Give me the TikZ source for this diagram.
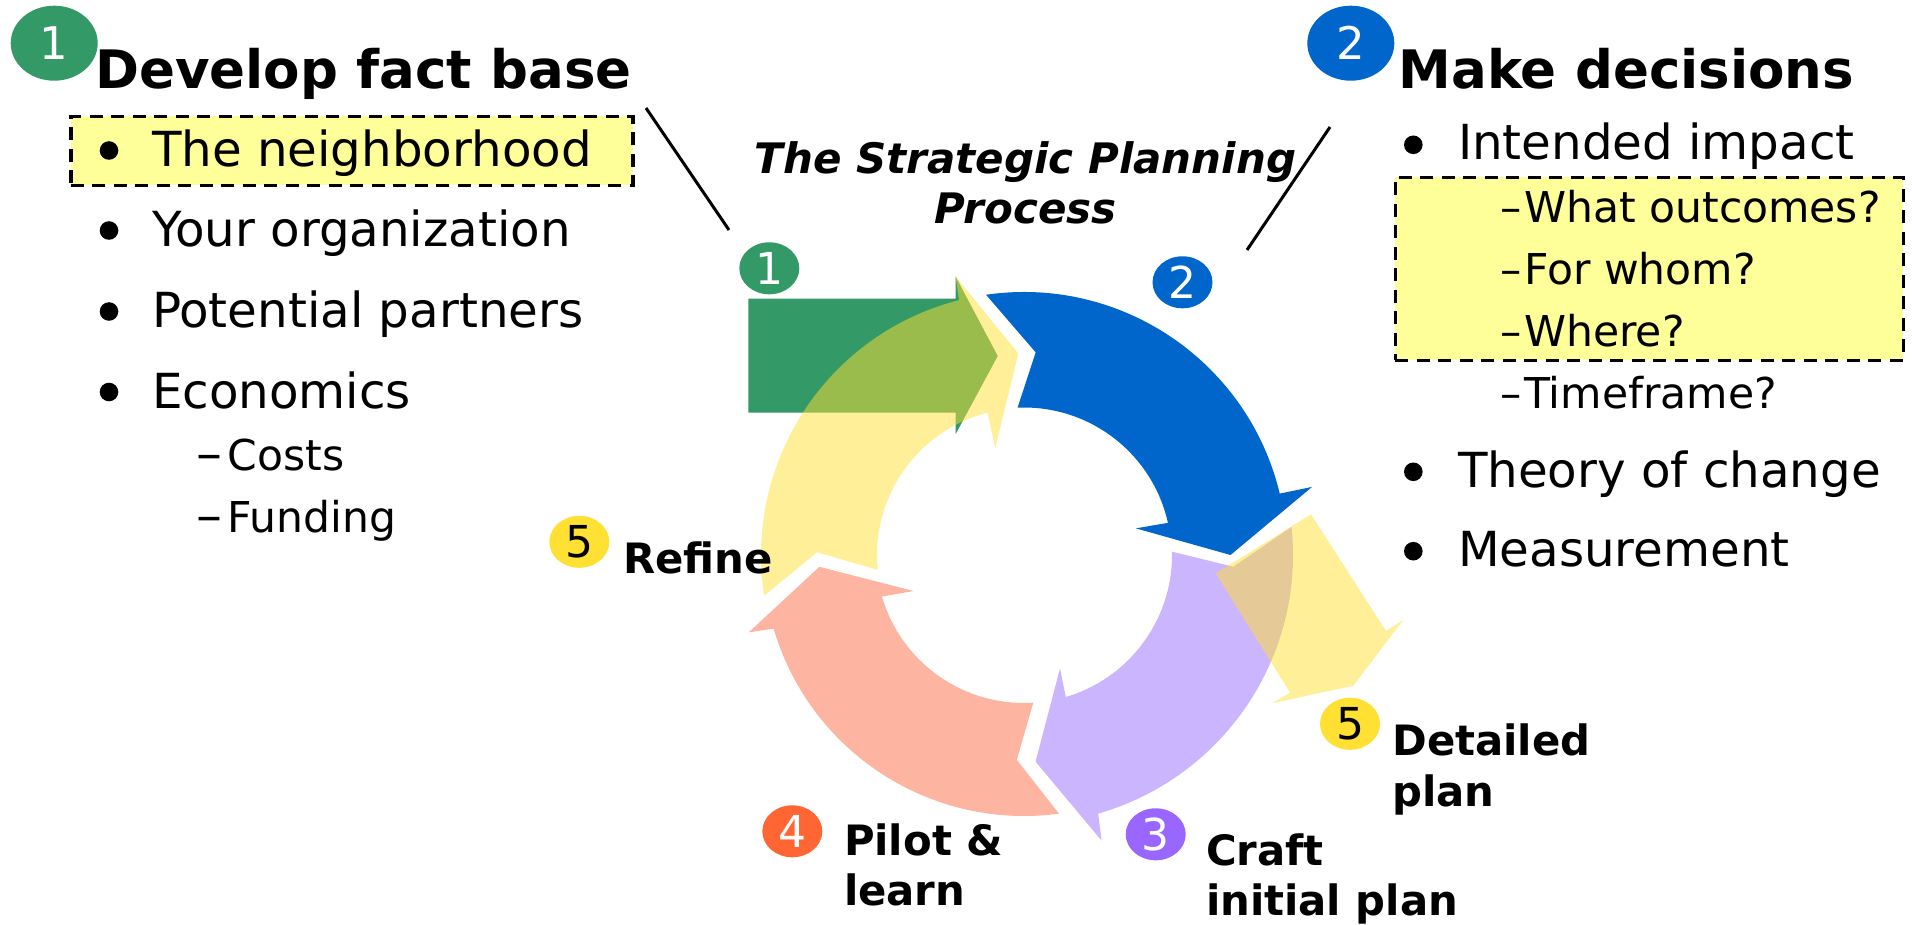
\documentclass[tikz,border=0pt]{standalone}
\usepackage{fontspec}
\setmainfont{DejaVu Sans}
\usetikzlibrary{shapes.geometric}
\newcommand\setfs[1]{\fontsize{#1pt}{#1pt}\selectfont}
\newcommand\longdash{\scalebox{1.22}[1.15]{–}}
\definecolor{cgreen}{HTML}{339966}
\definecolor{cblue}{HTML}{0066CC}
\definecolor{cpurple}{HTML}{9966FF}
\definecolor{corange}{HTML}{FF6633}
\definecolor{cyellow}{HTML}{FFE033}
\definecolor{cpurlt}{HTML}{CCB5FF}
\definecolor{csalmon}{HTML}{FDB5A1}
\definecolor{chl}{HTML}{FFFF99}
\begin{document}
\begin{tikzpicture}[x=1pt,y=-1pt,
  txt/.style={anchor=base west, inner sep=0pt, outer sep=0pt},
  headtxt/.style={txt, font=\setfs{53}\bfseries},
  itemtxt/.style={txt, font=\setfs{48.3}},
  subtxt/.style={txt, font=\setfs{42.5}},
  lbltxt/.style={txt, font=\setfs{41.8}\bfseries},
  captxt/.style={anchor=base, inner sep=0pt, font=\setfs{42}\bfseries\itshape},
  numc/.style={ellipse, minimum width=60pt, minimum height=52pt, inner sep=0pt, font=\setfs{44}, text=white},
  bignum/.style={numc, minimum width=87pt, minimum height=75pt, font=\setfs{45}},
  hlbox/.style={draw=black, fill=chl, line width=3.4pt, dash pattern=on 13pt off 8.5pt, inner sep=0pt},
  conn/.style={draw=black, line width=3pt},
  bulletdot/.style={fill=black},
  ylw/.style={fill=cyellow, fill opacity=0.5}
]
\useasboundingbox (0,0) rectangle (1912,925);

% highlight boxes
\node[hlbox, minimum width=562pt, minimum height=69pt] (hl1) at (351.8,150.8) {};
\node[hlbox, minimum width=508pt, minimum height=183pt] (hl2) at (1649.4,268.8) {};

% ---- ring arrows ----
\fill[cgreen] (748.3,298.7) -- (955.7,298.7) -- (955.7,276.7) -- (997.7,356) -- (955.7,434) -- (955.7,412.7) -- (748.3,412.7) -- cycle;
\begin{scope}[shift={(1024,555)}]
  \fill[cblue] (-98.3:263) arc[start angle=-98.3, end angle=-13.5, radius=263]
     -- (-13.3:296) -- (0:206.5) -- (-13.4:115) -- (-12.6:147.5)
     arc[start angle=-12.6, end angle=-92.5, radius=147.5] -- (-86.7:203) -- cycle;
  \fill[cpurlt] (-6:269) arc[start angle=-6, end angle=74, radius=269]
     -- (74.8:296) -- (86.8:207) -- (72.4:119) -- (73.6:148)
     arc[start angle=73.6, end angle=-1.3, radius=148] -- (3.2:209.6) -- cycle;
  \fill[csalmon] (82.3:261) arc[start angle=82.3, end angle=163.6, radius=261]
     -- (164.3:286) -- (176.7:205) -- (161.9:116) -- (163.7:148)
     arc[start angle=163.7, end angle=86.4, radius=148] -- (92:205) -- cycle;
  \fill[ylw] (171.1:263) arc[start angle=171.1, end angle=255.7, radius=263]
     -- (256.2:287) -- (268.4:201.5) -- (255:111) -- (255.6:147)
     arc[start angle=255.6, end angle=174.2, radius=147] -- (180.75:207) -- cycle;
\end{scope}
\fill[ylw] (1215.7,573.3) -- (1311,514.3) -- (1386,631) -- (1403.3,620) -- (1353.3,685.7) -- (1271.7,703.3) -- (1290,692.7) -- cycle;

% ---- connectors ----
\coordinate (l1a) at (646,108);
\coordinate (l1b) at (729,230);
\coordinate (l2a) at (1330,127);
\coordinate (l2b) at (1247,250);
\draw[conn] (l1a) -- (l1b);
\draw[conn] (l2a) -- (l2b);

% ---- big numbered circles and headings ----
\node[bignum, fill=cgreen] (n1big) at (54.2,43.2) {1};
\node[bignum, fill=cblue] (n2big) at (1350.8,43.2) {2};
\node[headtxt] (h1) at (95.3,88.3) {Develop fact base};
\node[headtxt] (h2) at (1398.6,88.3) {Make decisions};

% ---- left list ----
\fill[bulletdot] (109,150.5) circle[radius=9.3pt];
\fill[bulletdot] (109,230.5) circle[radius=9.3pt];
\fill[bulletdot] (109,311.5) circle[radius=9.3pt];
\fill[bulletdot] (109,392) circle[radius=9.3pt];
\node[itemtxt] (l1) at (152,166.5) {The neighborhood};
\node[itemtxt] (l2) at (152,246.7) {Your organization};
\node[itemtxt] (l3) at (152,327.8) {Potential partners};
\node[itemtxt] (l4) at (152,408.3) {Economics};
\node[subtxt] (l5) at (196.7,470.7) {\longdash\kern5pt Costs};
\node[subtxt] (l6) at (196.7,532) {\longdash\kern5pt Funding};

% ---- right list ----
\fill[bulletdot] (1413.3,144.8) circle[radius=9.3pt];
\fill[bulletdot] (1413.3,471.8) circle[radius=9.3pt];
\fill[bulletdot] (1413.3,551.2) circle[radius=9.3pt];
\node[itemtxt] (r1) at (1458,160) {Intended impact};
\node[subtxt] (r2) at (1500,222.7) {–\kern3pt What outcomes?};
\node[subtxt] (r3) at (1500,284.3) {–\kern3pt For whom?};
\node[subtxt] (r4) at (1500,346.5) {–\kern3pt Where?};
\node[subtxt] (r5) at (1500,408.3) {–\kern3pt Timeframe?};
\node[itemtxt] (r6) at (1458,487.3) {Theory of change};
\node[itemtxt] (r7) at (1458,566.7) {Measurement};

% ---- caption ----
\node[captxt] (cap1) at (1025.5,174) {The Strategic Planning};
\node[captxt] (cap2) at (1025.5,224) {Process};

% ---- small numbered circles ----
\node[numc, fill=cgreen] (s1) at (769.3,268.3) {1};
\node[numc, fill=cblue] (s2) at (1182.5,282.3) {2};
\node[numc, fill=cpurple] (s3) at (1155.7,834.3) {3};
\node[numc, fill=corange] (s4) at (792.3,831.3) {4};
\node[numc, fill=cyellow, text=black] (s5a) at (579.3,541.8) {5};
\node[numc, fill=cyellow, text=black] (s5b) at (1350,723.8) {5};

% ---- stage labels ----
\node[lbltxt] (t5a) at (623,573.3) {Refine};
\node[lbltxt] (t4a) at (844,855) {Pilot \&};
\node[lbltxt] (t4b) at (844,905.7) {learn};
\node[lbltxt] (t3a) at (1206,865) {Craft};
\node[lbltxt] (t3b) at (1206,915) {initial plan};
\node[lbltxt] (t5b) at (1392.3,755) {Detailed};
\node[lbltxt] (t5c) at (1392.3,806) {plan};
\end{tikzpicture}
\end{document}
